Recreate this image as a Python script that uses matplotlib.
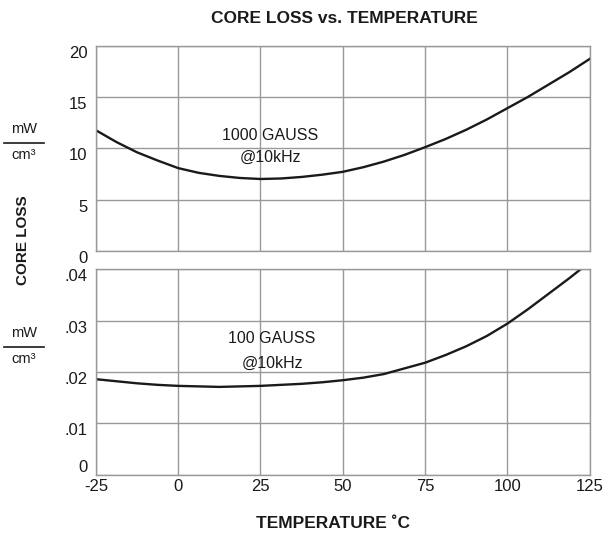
import matplotlib
matplotlib.use('Agg')
import matplotlib.pyplot as plt
from matplotlib.lines import Line2D

plt.rcParams['font.family'] = ['Liberation Sans', 'DejaVu Sans']

# Data
temps = [-25, -18.75, -12.5, -6.25, 0, 6.25, 12.5, 18.75, 25, 31.25, 37.5, 43.75, 50,
         56.25, 62.5, 68.75, 75, 81.25, 87.5, 93.75, 100, 106.25, 112.5, 118.75, 125]
loss_1000g = [11.75, 10.6, 9.6, 8.8, 8.06, 7.6, 7.3, 7.1, 7.0, 7.05, 7.2, 7.42, 7.7,
              8.15, 8.7, 9.35, 10.1, 10.9, 11.8, 12.8, 13.9, 15.0, 16.2, 17.4, 18.7]

temps_100 = [-25, -18.75, -12.5, -6.25, 0, 6.25, 12.5, 18.75, 25, 31.25, 37.5, 43.75, 50,
             56.25, 62.5, 68.75, 75, 81.25, 87.5, 93.75, 100, 106.25, 112.5, 118.75, 122.3]
loss_100g = [0.0186, 0.0182, 0.0178, 0.0175, 0.0173, 0.0172, 0.0171, 0.0172, 0.0173,
             0.0175, 0.0177, 0.0180, 0.0184, 0.0189, 0.0196, 0.0207, 0.0218, 0.0233,
             0.0250, 0.0270, 0.0294, 0.0322, 0.0352, 0.0382, 0.0400]

xticks = [-25, 0, 25, 50, 75, 100, 125]
yticks_top = [0, 5, 10, 15, 20]
yticks_bot = [0, 0.01, 0.02, 0.03, 0.04]
ylabels_bot = ['0', '.01', '.02', '.03', '.04']

grid_c = '#999999'
ink = '#1a1a1a'

fig = plt.figure(figsize=(6.03, 5.36), dpi=100)
ax1 = fig.add_axes([0.159, 0.532, 0.819, 0.383])
ax2 = fig.add_axes([0.159, 0.114, 0.819, 0.384])

for ax in (ax1, ax2):
    ax.set_xlim(-25, 125)
    ax.set_xticks(xticks)
    ax.grid(True, color=grid_c, lw=1)
    for s in ax.spines.values():
        s.set_color(grid_c)
        s.set_linewidth(1)
    ax.tick_params(length=0, labelsize=12, pad=6, labelcolor=ink)

ax1.plot(temps, loss_1000g, color=ink, lw=1.7)
ax1.set_ylim(0, 20)
ax1.set_yticks(yticks_top)
ax1.set_yticklabels([str(v) for v in yticks_top], va='top')
ax1.tick_params(axis='x', labelbottom=False)
ax1.text(28, 11.2, '1000 GAUSS', ha='center', va='center', fontsize=11.5, color=ink)
ax1.text(28, 9.1, '@10kHz', ha='center', va='center', fontsize=11.5, color=ink)

ax2.plot(temps_100, loss_100g, color=ink, lw=1.7)
ax2.set_ylim(0, 0.04)
ax2.set_yticks(yticks_bot)
labs = ax2.set_yticklabels(ylabels_bot, va='top')
labs[0].set_va('bottom')
ax2.set_xticklabels([str(v) for v in xticks])
ax2.tick_params(axis='x', pad=3)
ax2.text(28.5, 0.0266, '100 GAUSS', ha='center', va='center', fontsize=11.5, color=ink)
ax2.text(28.5, 0.0217, '@10kHz', ha='center', va='center', fontsize=11.5, color=ink)

fig.text(0.571, 0.966, 'CORE LOSS vs. TEMPERATURE', ha='center', va='center',
         fontsize=12.5, fontweight='bold', color=ink)
fig.text(0.553, 0.024, 'TEMPERATURE ˚C', ha='center', va='center',
         fontsize=12.5, fontweight='bold', color=ink)
fig.text(0.038, 0.552, 'CORE LOSS', rotation=90, ha='center', va='center',
         fontsize=11, fontweight='bold', color=ink)

# mW / cm3 fraction labels
for y_line in (1 - 143 / 536, 1 - 347 / 536):
    fig.add_artist(Line2D([0.007, 0.073], [y_line, y_line], color=ink,
                          lw=1.2, transform=fig.transFigure))
    fig.text(0.040, y_line + 0.027, 'mW', ha='center', va='center', fontsize=10.5, color=ink)
    fig.text(0.040, y_line - 0.022, 'cm³', ha='center', va='center', fontsize=10.5, color=ink)

plt.savefig('out.png', dpi=100)
